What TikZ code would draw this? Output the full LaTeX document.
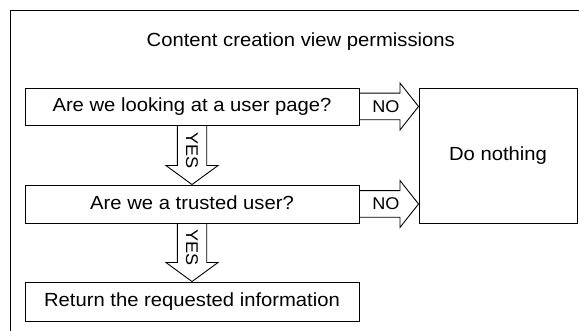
\documentclass[tikz,border=0pt]{standalone}
\usepackage{fontspec}
\setmainfont{Liberation Sans}[FakeStretch=1.065]
\usetikzlibrary{calc}
\begin{document}
\begin{tikzpicture}[x=1pt,y=1pt,
  boxstyle/.style={draw=black, line width=0.9pt, inner sep=0pt, align=center,
    font=\fontsize{19}{22}\selectfont, text height=13.4pt, text depth=3pt},
  bigarrow/.style={draw=black, line width=0.9pt, line join=miter},
  lbl/.style={inner sep=0pt, font=\fontsize{17}{20}\selectfont}]
\useasboundingbox (0,0) rectangle (579,331);
\clip (0,0) rectangle (579,331);
\draw[line width=0.9pt] (10,320.3) rectangle (600,-20);
\node[inner sep=0pt, font=\fontsize{19}{22}\selectfont, anchor=base] (title) at (300.8,284.3) {Content creation view permissions};
\node[boxstyle, minimum width=334pt, minimum height=37pt] (b1) at (192,224.5) {Are we looking at a user page?};
\node[boxstyle, minimum width=334pt, minimum height=38pt] (b2) at (192,127) {Are we a trusted user?};
\node[boxstyle, minimum width=334pt, minimum height=39pt] (b3) at (192,29.5) {Return the requested information};
\node[boxstyle, minimum width=158pt, minimum height=135pt] (dn) at (498,175.5) {Do nothing};
% NO arrow 1
\coordinate (t1) at (dn.west |- b1.east);
\draw[bigarrow] ($(b1.east)+(0,13.3)$) -- ($(t1)+(-18.6,13.3)$) -- ($(t1)+(-18.6,23.5)$) -- (t1)
  -- ($(t1)+(-18.6,-23.5)$) -- ($(t1)+(-18.6,-13.3)$) -- ($(b1.east)+(0,-13.3)$);
\node[lbl] (no1) at ($(b1.east)+(26.5,0)$) {NO};
% NO arrow 2
\coordinate (t2) at (dn.west |- b2.east);
\draw[bigarrow] ($(b2.east)+(0,13.3)$) -- ($(t2)+(-18.6,13.3)$) -- ($(t2)+(-18.6,23.5)$) -- (t2)
  -- ($(t2)+(-18.6,-23.5)$) -- ($(t2)+(-18.6,-13.3)$) -- ($(b2.east)+(0,-13.3)$);
\node[lbl] (no2) at ($(b2.east)+(26.5,0)$) {NO};
% YES arrow 1
\draw[bigarrow] ($(b1.south)+(-14.7,0)$) -- ($(b2.north)+(-14.7,19)$) -- ($(b2.north)+(-26,19)$) -- (b2.north)
  -- ($(b2.north)+(26,19)$) -- ($(b2.north)+(14.7,19)$) -- ($(b1.south)+(14.7,0)$);
\node[lbl, rotate=-90] (yes1) at ($(b1.south)+(0,-25.5)$) {YES};
% YES arrow 2
\draw[bigarrow] ($(b2.south)+(-14.7,0)$) -- ($(b3.north)+(-14.7,19)$) -- ($(b3.north)+(-26,19)$) -- (b3.north)
  -- ($(b3.north)+(26,19)$) -- ($(b3.north)+(14.7,19)$) -- ($(b2.south)+(14.7,0)$);
\node[lbl, rotate=-90] (yes2) at ($(b2.south)+(0,-24.5)$) {YES};
\end{tikzpicture}
\end{document}
